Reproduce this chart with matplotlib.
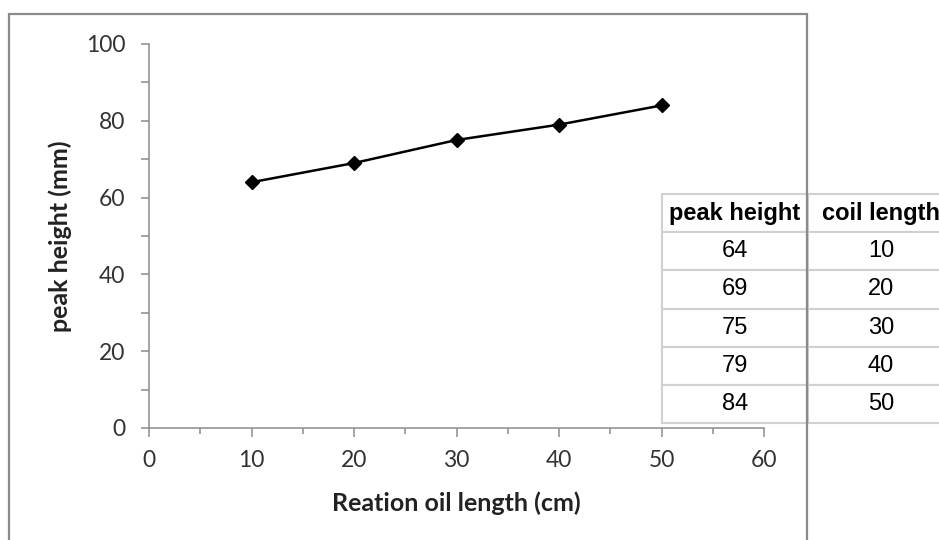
import matplotlib.pyplot as plt
from matplotlib.patches import Rectangle
from matplotlib.ticker import MultipleLocator

coil_length = [10, 20, 30, 40, 50]
peak_height = [64, 69, 75, 79, 84]
col_labels = ["peak height", "coil length"]

W, H = 939, 540
fig = plt.figure(figsize=(W / 100, H / 100), dpi=100)

# main plot area
ax = fig.add_axes([149 / W, (H - 428) / H, 615 / W, 384 / H])
ax.plot(coil_length, peak_height, color="black", lw=1.8, marker="D", ms=7.5,
        zorder=3)
ax.set_xlim(0, 60)
ax.set_ylim(0, 100)
ax.xaxis.set_major_locator(MultipleLocator(10))
ax.xaxis.set_minor_locator(MultipleLocator(5))
ax.yaxis.set_major_locator(MultipleLocator(20))
ax.yaxis.set_minor_locator(MultipleLocator(10))

for s in ["top", "right"]:
    ax.spines[s].set_visible(False)
for s in ["left", "bottom"]:
    ax.spines[s].set_color("#8c8c8c")
    ax.spines[s].set_linewidth(1.1)

ax.tick_params(which="both", direction="out", color="#8c8c8c", width=1.1)
ax.tick_params(axis="x", which="major", length=6.5, pad=9, labelsize=16.5,
               labelcolor="#333333")
ax.tick_params(axis="x", which="minor", length=4)
ax.tick_params(axis="y", which="both", length=6, pad=11, labelsize=16.5,
               labelcolor="#333333")
for lab in ax.get_xticklabels() + ax.get_yticklabels():
    lab.set_family("Lato")

ax.set_xlabel("Reation oil length (cm)", family="Lato", fontweight="bold",
              fontsize=18, color="#222222")
ax.set_ylabel("peak height (mm)", family="Lato", fontweight="bold",
              fontsize=18, color="#222222")
ax.xaxis.set_label_coords(0.5, -0.166)
ax.yaxis.set_label_coords(-0.125, 0.5)

# data table on the right
tax = fig.add_axes([662 / W, (H - 423) / H, 292 / W, 229 / H])
tax.axis("off")
rows = [[str(p), str(c)] for p, c in zip(peak_height, coil_length)]
tbl = tax.table(cellText=rows, colLabels=col_labels, cellLoc="center",
                bbox=[0, 0, 1, 1])
tbl.auto_set_font_size(False)
tbl.set_fontsize(17)
for (r, c), cell in tbl.get_celld().items():
    cell.set_edgecolor("#d0d0d0")
    cell.set_linewidth(1.5)
    cell.get_text().set_family("Liberation Sans")
    cell.get_text().set_color("black")
    if r == 0:
        cell.get_text().set_fontweight("bold")

# chart frame
fig.patches.append(Rectangle((9 / W, -0.05), (807 - 9) / W, 1.05 - 14 / H,
                             transform=fig.transFigure, fill=False,
                             edgecolor="#8a8a8a", lw=1.6, zorder=5))

fig.savefig("out.png", dpi=100)
